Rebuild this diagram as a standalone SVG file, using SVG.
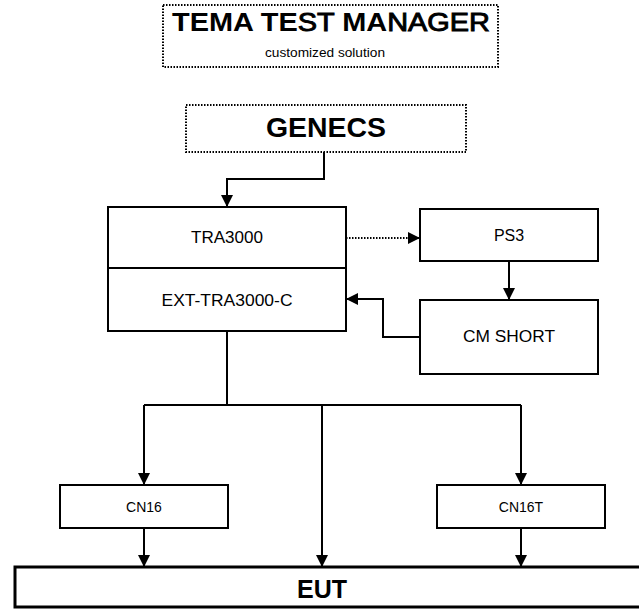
<svg xmlns="http://www.w3.org/2000/svg" width="639" height="609" viewBox="0 0 639 609">
<style>
.box{fill:#fff;stroke:#000;stroke-width:2}
.dot{fill:#fff;stroke:#000;stroke-width:2;stroke-dasharray:1.5 1.5}
.ln{fill:none;stroke:#000;stroke-width:2}
.dln{fill:none;stroke:#000;stroke-width:2;stroke-dasharray:1.5 1.5}
.t{font-family:"Liberation Sans",Arial,sans-serif;fill:#000;text-anchor:middle}
</style>
<defs>
<marker id="ah" markerWidth="12" markerHeight="12" refX="12" refY="6" orient="auto" markerUnits="userSpaceOnUse">
<path d="M0,0 L12,6 L0,12 Z" fill="#000"/>
</marker>
</defs>
<rect width="639" height="609" fill="#fff"/>
<g id="title">
<rect class="dot" x="163" y="5" width="335" height="62"/>
<text class="t" x="331" y="31" font-size="25" font-weight="bold" textLength="318" lengthAdjust="spacingAndGlyphs">TEMA TE<tspan font-weight="normal" stroke="#000" stroke-width="0.9">ST </tspan>MA<tspan font-weight="normal" stroke="#000" stroke-width="0.9">NAGER</tspan></text>
<text class="t" x="325" y="57" font-size="12" textLength="120" lengthAdjust="spacingAndGlyphs">customized solution</text>
</g>
<g id="genecs">
<rect class="dot" x="186" y="105" width="280" height="47"/>
<text class="t" x="326" y="137" font-size="27" font-weight="bold" textLength="120" lengthAdjust="spacingAndGlyphs">GENECS</text>
</g>
<g id="tra3000">
<rect class="box" x="108" y="207" width="238" height="124"/>
<line class="ln" x1="108" y1="268" x2="346" y2="268"/>
<text class="t" x="227" y="243" font-size="16" textLength="72" lengthAdjust="spacingAndGlyphs">TRA3000</text>
<text class="t" x="227" y="306" font-size="16" textLength="131" lengthAdjust="spacingAndGlyphs">EXT-TRA3000-C</text>
</g>
<g id="ps3">
<rect class="box" x="420" y="209" width="178" height="52"/>
<text class="t" x="509" y="241" font-size="16">PS3</text>
</g>
<g id="cmshort">
<rect class="box" x="420" y="300" width="178" height="74"/>
<text class="t" x="509" y="342" font-size="16" textLength="92" lengthAdjust="spacingAndGlyphs">CM SHORT</text>
</g>
<g id="cn16">
<rect class="box" x="60" y="485" width="168" height="43"/>
<text class="t" x="144" y="512" font-size="14">CN16</text>
</g>
<g id="cn16t">
<rect class="box" x="437" y="485" width="168" height="43"/>
<text class="t" x="521" y="512" font-size="14">CN16T</text>
</g>
<g id="eut">
<rect x="15" y="567" width="640" height="40" fill="#fff" stroke="#000" stroke-width="3"/>
<text class="t" x="322" y="598" font-size="25" font-weight="bold">EUT</text>
</g>
<g id="connectors">
<path class="ln" d="M324,152 V179 H227 V207" marker-end="url(#ah)"/>
<path class="dln" d="M346,238 H420" marker-end="url(#ah)"/>
<path class="ln" d="M509,261 V300" marker-end="url(#ah)"/>
<path class="ln" d="M420,337 H383 V299 H346" marker-end="url(#ah)"/>
<path class="ln" d="M227,331 V405"/>
<path class="ln" d="M144,405 H521"/>
<path class="ln" d="M144,405 V485" marker-end="url(#ah)"/>
<path class="ln" d="M322,405 V567" marker-end="url(#ah)"/>
<path class="ln" d="M521,405 V485" marker-end="url(#ah)"/>
<path class="ln" d="M144,528 V567" marker-end="url(#ah)"/>
<path class="ln" d="M521,528 V567" marker-end="url(#ah)"/>
</g>
</svg>
